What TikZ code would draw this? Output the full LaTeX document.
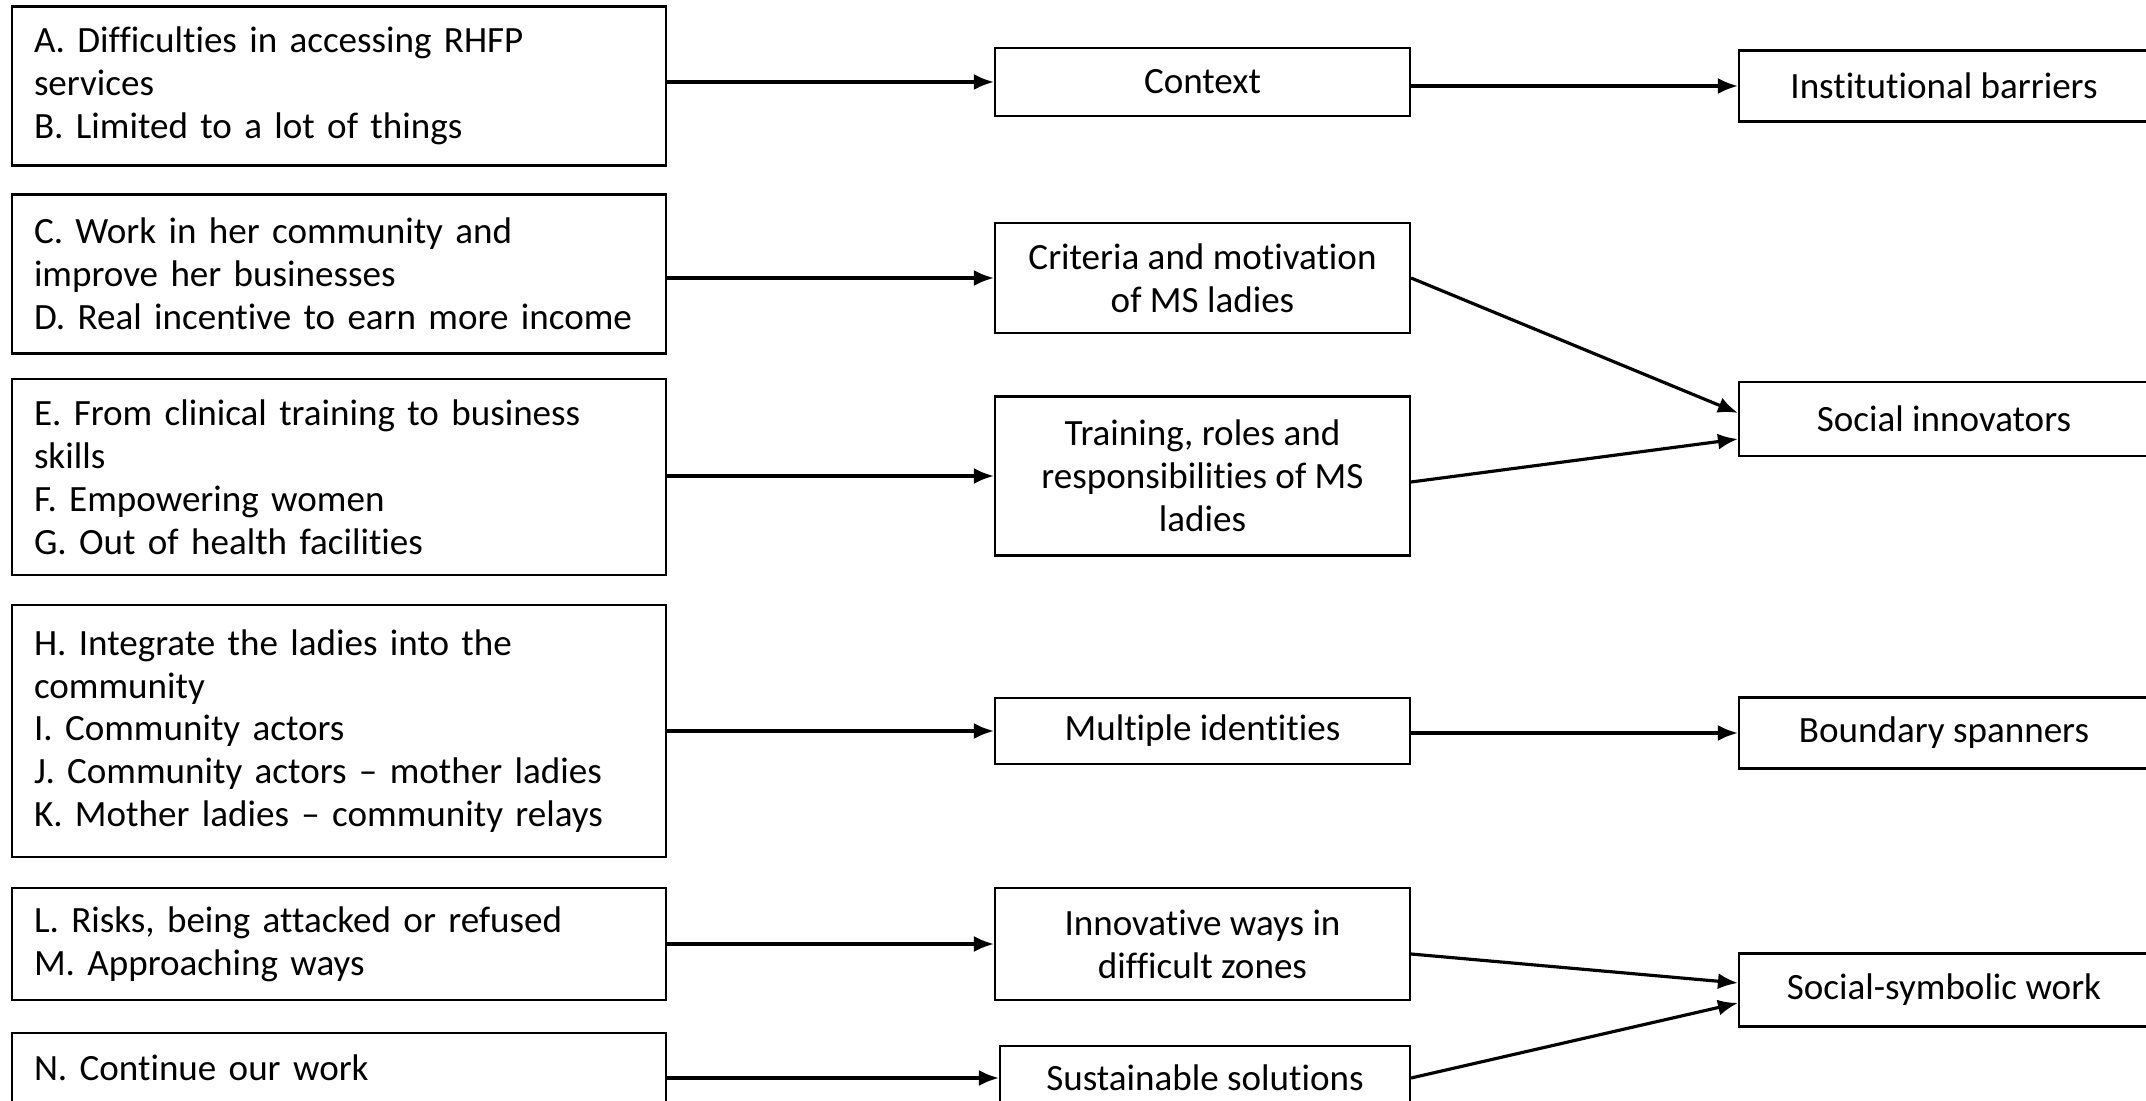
\documentclass[tikz,border=0pt]{standalone}
\usepackage{fontspec}
\setmainfont[Ligatures=NoCommon]{Carlito}
\usetikzlibrary{arrows.meta,positioning}

\begin{document}
\begin{tikzpicture}[
  font=\fontsize{10.55pt}{12.2pt}\selectfont,
  leftbox/.style={draw, line width=0.6pt, text width=6.1cm, inner xsep=0.22cm, align=left},
  midbox/.style={draw, line width=0.6pt, minimum width=4.15cm, align=center},
  rightbox/.style={draw, line width=0.6pt, minimum width=4.1cm, align=center},
  arr/.style={-{Latex[length=2mm, width=1.6mm]}, line width=0.9pt}
]
\useasboundingbox (0,0) rectangle (21.46,-11.01);

% codes
\node[leftbox, minimum height=1.59cm] (a) at (3.39,-0.86) {A. Difficulties in accessing RHFP\\services\\B. Limited to a lot of things};
\node[leftbox, minimum height=1.59cm] (cd) at (3.39,-2.74) {C. Work in her community and\\improve her businesses\\D. Real incentive to earn more income};
\node[leftbox, minimum height=1.96cm] (efg) at (3.39,-4.77) {E. From clinical training to business\\skills\\F. Empowering women\\G. Out of health facilities};
\node[leftbox, minimum height=2.52cm] (hk) at (3.39,-7.31) {H. Integrate the ladies into the\\community\\I. Community actors\\J. Community actors – mother ladies\\K. Mother ladies – community relays};
\node[leftbox, minimum height=1.12cm] (lm) at (3.39,-9.44) {L. Risks, being attacked or refused\\M. Approaching ways};
\node[leftbox, minimum height=1.12cm] (n) at (3.39,-10.89) {N. Continue our work\\~};

% themes
\node[midbox, minimum height=0.68cm] (ctx) at (12.025,-0.82) {Context};
\node[midbox, minimum height=1.10cm] (crit) at (12.025,-2.78) {Criteria and motivation\\of MS ladies};
\node[midbox, minimum height=1.59cm] (train) at (12.025,-4.76) {Training, roles and\\responsibilities of MS\\ladies};
\node[midbox, minimum height=0.66cm] (mult) at (12.025,-7.31) {Multiple identities};
\node[midbox, minimum height=1.12cm] (innov) at (12.025,-9.44) {Innovative ways in\\difficult zones};
\node[midbox, minimum width=4.1cm, minimum height=0.64cm] (sust) at (12.05,-10.78) {Sustainable solutions};

% dimensions
\node[rightbox, minimum height=0.71cm] (inst) at (19.44,-0.86) {Institutional barriers};
\node[rightbox, minimum height=0.74cm] (si) at (19.44,-4.19) {Social innovators};
\node[rightbox, minimum height=0.71cm] (bs) at (19.44,-7.33) {Boundary spanners};
\node[rightbox, minimum height=0.73cm] (ss) at (19.44,-9.90) {Social-symbolic work};

\draw[arr] (a.east |- ctx) -- (ctx);
\draw[arr] (cd.east |- crit) -- (crit);
\draw[arr] (efg.east |- train) -- (train);
\draw[arr] (hk.east |- mult) -- (mult);
\draw[arr] (lm.east |- innov) -- (innov);
\draw[arr] (n.east |- sust) -- (sust);

\draw[arr] (ctx.east |- inst) -- (inst);
\draw[arr] (crit.east) -- ([yshift=0.06cm]si.west);
\draw[arr] ([yshift=-0.06cm]train.east) -- ([yshift=-0.2cm]si.west);
\draw[arr] (mult.east |- bs) -- (bs);
\draw[arr] ([yshift=-0.1cm]innov.east) -- ([yshift=0.07cm]ss.west);
\draw[arr] (sust.east) -- ([yshift=-0.13cm]ss.west);
\end{tikzpicture}
\end{document}
